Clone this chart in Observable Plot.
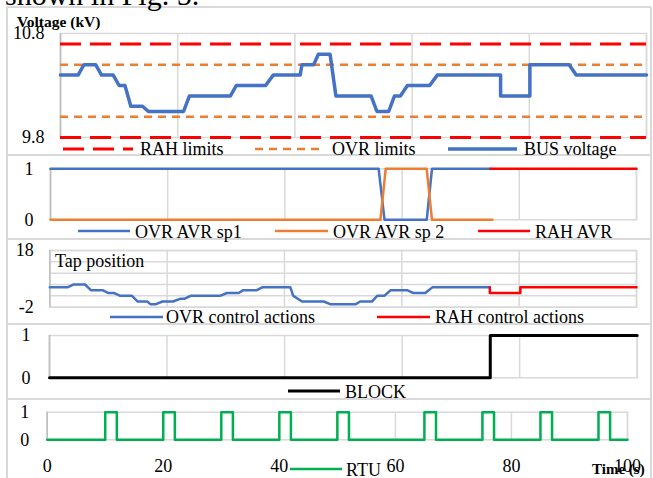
<!DOCTYPE html>
<html><head><meta charset="utf-8">
<script src="https://cdn.jsdelivr.net/npm/d3@7"></script>
<script src="https://cdn.jsdelivr.net/npm/@observablehq/plot@0.6"></script>
<style>
html,body{margin:0;padding:0;background:#fff;}
#chart{position:relative;width:653px;height:478px;overflow:hidden;font-family:"Liberation Serif","Times New Roman",serif;}
#chart svg{position:absolute;left:0;}
#chart svg text{font-family:"Liberation Serif","Times New Roman",serif !important;}
</style></head><body><div id="chart"></div>
<script>
// ---------- data ----------
const xTicks = [0, 20, 40, 60, 80, 100];

// Panel 1: bus voltage (kV)
const busT = [0, 3, 4, 6, 7, 9, 10, 11, 12, 14, 15, 21, 22, 29, 30, 35, 36.3, 40.9, 41.2, 43.2, 44, 46, 47, 53, 54, 56, 57, 58, 59.2, 63, 64.3, 75.1, 75.1, 80.1, 80.1, 86.8, 88, 100];
const busV = [10.4, 10.4, 10.5, 10.5, 10.4, 10.4, 10.3, 10.3, 10.1, 10.1, 10.05, 10.05, 10.2, 10.2, 10.3, 10.3, 10.4, 10.4, 10.5, 10.5, 10.6, 10.6, 10.2, 10.2, 10.05, 10.05, 10.2, 10.2, 10.3, 10.3, 10.4, 10.4, 10.2, 10.2, 10.5, 10.5, 10.4, 10.4];
const rahLimits = [9.8, 10.7];
const ovrLimits = [10.0, 10.5];
const voltTicks = [9.8, 10.8];

// Panel 2: AVR activity
const sp1T = [0, 56, 57, 64.2, 65.1, 75.1];
const sp1V = [1, 1, 0, 0, 1, 1];
const sp2T = [0, 56.3, 57.2, 64.2, 65.1, 75.4];
const sp2V = [0, 0, 1, 1, 0, 0];
const rahAvrT = [75.1, 100];
const rahAvrV = [1, 1];
const binTicks = [0, 1];

// Panel 3: tap position
const tapT = [0, 3, 4, 6, 7, 9, 10, 11, 12, 14, 15, 16.6, 17.2, 18, 19.2, 21, 22.3, 23, 24, 29, 30.2, 32.2, 33, 35.3, 36.2, 41, 41.5, 43, 46.7, 47.9, 52.1, 52.9, 54.9, 55.8, 57, 58.1, 60.9, 62, 64, 65.2, 75];
const tapV = [5, 5, 6, 6, 4, 4, 3, 3, 2, 2, 0, 0, -1, -1, 0, 0, 1, 1, 2, 2, 3, 3, 4, 4, 5, 5, 2, 0, 0, -1, -1, 0, 0, 2, 2, 4, 4, 3, 3, 5, 5];
const rahTapT = [75, 75, 80.2, 80.2, 100];
const rahTapV = [5, 3, 3, 5, 5];
const tapTicks = [-2, 18];
const tapGrid = [-2, 2, 6, 10, 14, 18];

// Panel 4: BLOCK
const blockT = [0, 75, 75, 100];
const blockV = [0, 0, 1, 1];

// Panel 5: RTU pulses
const rtuOn = [10, 20, 30, 40, 50, 65, 75, 85, 95];
const rtuOff = [12, 22, 32, 42, 52, 67, 77, 87, 97];

// ---------- helpers ----------
const W = 653;
const FONT = '"Liberation Serif","Times New Roman",serif';
const GRID = "#d9d9d9";
const root = document.getElementById("chart");
const pts = (T, V) => T.map((t, i) => ({t, v: V[i]}));
const rtuPts = [{t: 0, v: 0}];
rtuOn.forEach((on, i) => {
  rtuPts.push({t: on, v: 0}, {t: on, v: 1}, {t: rtuOff[i], v: 1}, {t: rtuOff[i], v: 0});
});
rtuPts.push({t: 100, v: 0});

// background boxes
const bg = d3.select(root).append("svg").attr("width", W).attr("height", 478).style("top", "0px");
[7, 155, 239, 324, 399].forEach(y => bg.append("line").attr("x1", 7).attr("x2", 651).attr("y1", y).attr("y2", y).attr("stroke", GRID).attr("stroke-width", 2));
[7, 651].forEach(x => bg.append("line").attr("x1", x).attr("x2", x).attr("y1", 7).attr("y2", 478).attr("stroke", GRID).attr("stroke-width", 2));

function panel(o) {
  const xOpt = o.xAxis
    ? {domain: [0, 100], ticks: xTicks, tickSize: 0, tickPadding: 19, label: null, tickFormat: d => String(d)}
    : {domain: [0, 100], axis: null};
  const svg = Plot.plot({
    width: W, height: o.height,
    marginTop: o.mt, marginBottom: o.mb, marginLeft: o.ml, marginRight: o.mr,
    x: xOpt,
    y: {domain: o.yDomain, ticks: o.yTicks, tickSize: 0, tickPadding: o.yPad, label: null, tickFormat: d => String(d)},
    style: {background: "transparent", overflow: "visible", fontFamily: FONT, fontSize: "18px", color: "#000"},
    marks: [
      ...(o.hGrid ? [Plot.ruleY(o.hGrid, {stroke: GRID, strokeWidth: 1.5})] : []),
      Plot.ruleX(xTicks, {stroke: GRID, strokeWidth: 1.5}),
      Plot.frame({stroke: GRID, strokeWidth: 1.5}),
      Plot.ruleX([0], {stroke: "#bfbfbf", strokeWidth: 1.5}),
      ...o.marks
    ]
  });
  svg.style.top = o.top + "px";
  svg.querySelectorAll("text").forEach(t => { t.style.fontFamily = FONT; t.style.fontSize = "18px"; });
  root.append(svg);
}

// Panel 1
panel({top: 7, height: 148, mt: 26, mb: 18, ml: 60, mr: 7, yDomain: [9.8, 10.8], yTicks: voltTicks, yPad: 16,
  marks: [
    Plot.ruleY(rahLimits, {stroke: "#ff0000", strokeWidth: 3, strokeDasharray: "21,9"}),
    Plot.ruleY(ovrLimits, {stroke: "#ed7d31", strokeWidth: 2.5, strokeDasharray: "8,6"}),
    Plot.line(pts(busT, busV), {x: "t", y: "v", stroke: "#4472c4", strokeWidth: 3.5})
  ]});

// Panel 2
panel({top: 155, height: 84, mt: 13.3, mb: 19.7, ml: 50, mr: 17, yDomain: [0, 1], yTicks: binTicks, yPad: 17,
  marks: [
    Plot.line(pts(sp1T, sp1V), {x: "t", y: "v", stroke: "#4472c4", strokeWidth: 2.5}),
    Plot.line(pts(sp2T, sp2V), {x: "t", y: "v", stroke: "#ed7d31", strokeWidth: 2.5}),
    Plot.line(pts(rahAvrT, rahAvrV), {x: "t", y: "v", stroke: "#ff0000", strokeWidth: 2.5})
  ]});

// Panel 3
panel({top: 239, height: 85, mt: 11, mb: 17.3, ml: 49.3, mr: 17, yDomain: [-2, 18], yTicks: tapTicks, yPad: 16, hGrid: tapGrid,
  marks: [
    Plot.line(pts(tapT, tapV), {x: "t", y: "v", stroke: "#4472c4", strokeWidth: 2.5}),
    Plot.line(pts(rahTapT, rahTapV), {x: "t", y: "v", stroke: "#ff0000", strokeWidth: 2.5})
  ]});

// Panel 4
panel({top: 324, height: 75, mt: 11, mb: 21.7, ml: 49, mr: 16.3, yDomain: [0, 1], yTicks: binTicks, yPad: 19,
  marks: [
    Plot.line(pts(blockT, blockV), {x: "t", y: "v", stroke: "#000", strokeWidth: 3})
  ]});

// Panel 5
panel({top: 399, height: 79, mt: 12.7, mb: 38.7, ml: 46.7, mr: 26, yDomain: [0, 1], yTicks: binTicks, yPad: 18, xAxis: true,
  marks: [
    Plot.line(rtuPts, {x: "t", y: "v", stroke: "#00b050", strokeWidth: 2.5})
  ]});

// overlay: titles & legends
const ov = d3.select(root).append("svg").attr("width", W).attr("height", 478).style("top", "0px")
  .style("font-family", FONT);
function txt(x, y, s, size, bold) {
  ov.append("text").attr("x", x).attr("y", y).attr("font-size", size).attr("font-weight", bold ? "bold" : null).text(s);
}
function leg(x1, x2, y, tx, ty, label, color, w, dash) {
  ov.append("line").attr("x1", x1).attr("x2", x2).attr("y1", y).attr("y2", y)
    .attr("stroke", color).attr("stroke-width", w).attr("stroke-dasharray", dash || null);
  txt(tx, ty, label, 18);
}
txt(5, 5, "shown in Fig. 5.", 30);
txt(17, 27, "Voltage (kV)", 15.5, true);
leg(63, 133, 149, 140, 155, "RAH limits", "#ff0000", 3, "21,9");
leg(255, 322, 149, 332, 155, "OVR limits", "#ed7d31", 2.5, "8,6");
leg(448, 517, 149, 524, 155, "BUS voltage", "#4472c4", 3.5);
leg(78, 130, 231, 135, 238, "OVR AVR sp1", "#4472c4", 2.5);
leg(275, 328, 231, 333, 238, "OVR AVR sp 2", "#ed7d31", 2.5);
leg(478, 530, 231, 535, 238, "RAH AVR", "#ff0000", 2.5);
txt(55, 267, "Tap position", 18);
leg(110, 163, 317, 166, 323, "OVR control actions", "#4472c4", 2.5);
leg(377, 430, 317, 435, 323, "RAH control actions", "#ff0000", 2.5);
leg(288, 340, 391, 345, 398, "BLOCK", "#000", 3);
leg(290, 342, 469, 346, 476, "RTU", "#00b050", 2.5);
txt(592, 474, "Time (s)", 15, true);
</script></body></html>
